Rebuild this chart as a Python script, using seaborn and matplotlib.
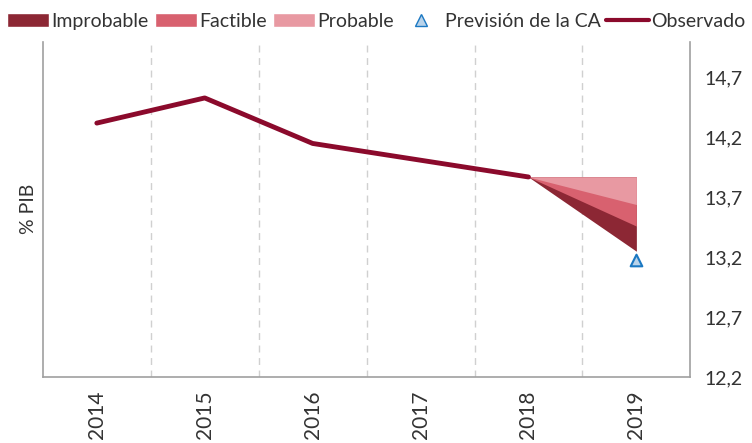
import numpy as np
import pandas as pd
import matplotlib
matplotlib.use("Agg")
import matplotlib.pyplot as plt
import seaborn as sns
from matplotlib.patches import Patch
from matplotlib.lines import Line2D

# datos
years = ["2014", "2015", "2016", "2017", "2018", "2019"]
observado = [14.32, 14.53, 14.15, 14.01, 13.87]
prevision_ca = 13.18
# abanico 2019 (limite superior comun y limites inferiores de cada banda)
fan_top = 13.87
probable_low = 13.64
factible_low = 13.46
improbable_low = 13.25

sns.set_style("white")
plt.rcParams['font.family'] = ['Lato', 'DejaVu Sans']

c_impro = "#8C2734"
c_fact = "#D8616F"
c_prob = "#E899A2"
c_obs = "#8B0A2C"

fig = plt.figure(figsize=(7.52, 4.43), dpi=100)
ax = fig.add_axes([0.057, 0.149, 0.861, 0.757])

df = pd.DataFrame({"x": np.arange(len(observado)), "y": observado})
sns.lineplot(data=df, x="x", y="y", ax=ax, color=c_obs, lw=3.5, zorder=3)

xf = [4, 5]
start = observado[-1]
ax.fill_between(xf, [start, improbable_low], [start, fan_top], color=c_impro, lw=0, zorder=2)
ax.fill_between(xf, [start, factible_low], [start, fan_top], color=c_fact, lw=0, zorder=2)
ax.fill_between(xf, [start, probable_low], [start, fan_top], color=c_prob, lw=0, zorder=2)

ax.scatter([5], [prevision_ca], marker="^", s=70, facecolor="#B9D3EA",
           edgecolor="#1B78C2", lw=1.5, zorder=4)

ax.set_xlim(-0.5, 5.5)
ax.set_ylim(12.2, 15.0)
ax.set_xticks(range(len(years)))
ax.set_xticklabels(years, rotation=90, fontsize=15, color="#333333")
yt = [12.2, 12.7, 13.2, 13.7, 14.2, 14.7]
ax.set_yticks(yt)
ax.set_yticklabels([f"{v:.1f}".replace(".", ",") for v in yt], fontsize=14, color="#333333")
ax.yaxis.tick_right()
ax.tick_params(axis="y", pad=10, length=0)
ax.tick_params(axis="x", pad=10, length=0)
ax.set_xlabel("")
ax.set_ylabel("% PIB", fontsize=14, color="#333333", labelpad=4)
ax.yaxis.set_label_position("left")

for xv in np.arange(0.5, 5.5, 1):
    ax.axvline(xv, color="#D0D0D0", lw=1, ls=(0, (5, 4)), zorder=1)

for s in ["left", "right", "bottom"]:
    ax.spines[s].set_color("#A0A0A0")
    ax.spines[s].set_linewidth(1.2)
ax.spines["top"].set_visible(False)

handles = [
    Patch(facecolor=c_impro, label="Improbable"),
    Patch(facecolor=c_fact, label="Factible"),
    Patch(facecolor=c_prob, label="Probable"),
    Line2D([], [], marker="^", ls="none", markersize=8, markerfacecolor="#B9D3EA",
           markeredgecolor="#1B78C2", label="Previsión de la CA"),
    Line2D([], [], color=c_obs, lw=3, label="Observado"),
]
fig.legend(handles=handles, loc="upper center", bbox_to_anchor=(0.5, 1.01), ncol=5,
           frameon=False, fontsize=14, handlelength=2.2, handletextpad=0.1,
           columnspacing=0.3, labelcolor="#333333")

fig.savefig("out.png", dpi=100)
